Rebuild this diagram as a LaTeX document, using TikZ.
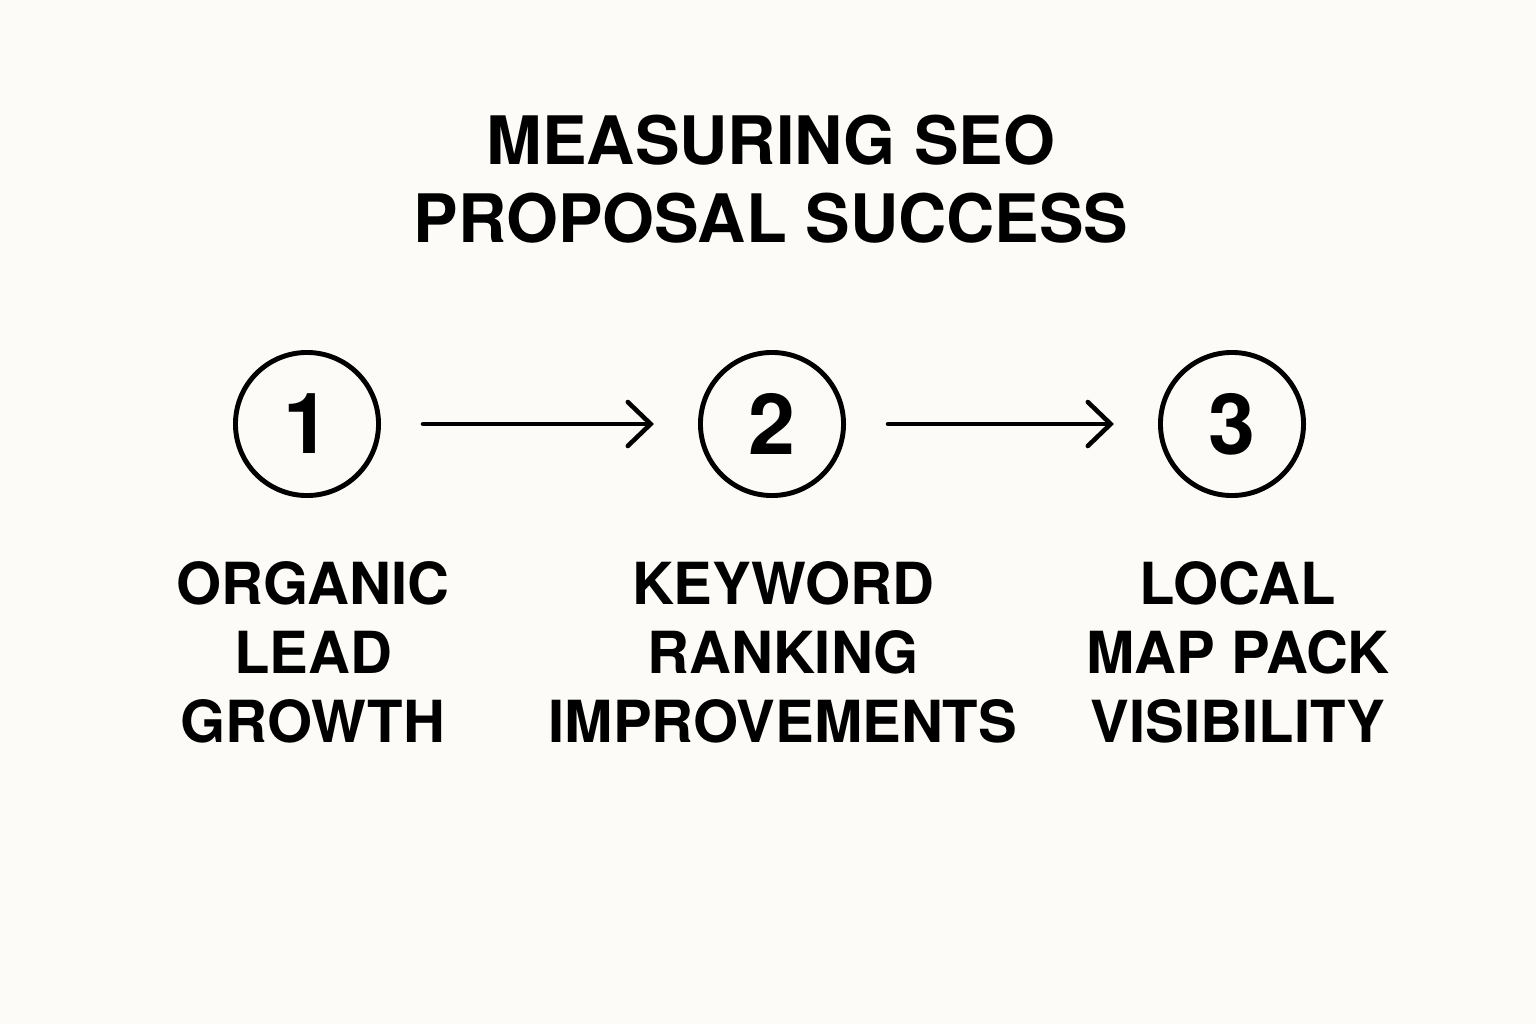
\documentclass[tikz,border=0pt]{standalone}
\usepackage{fontspec}
\setmainfont{TeX Gyre Heros}
\usetikzlibrary{arrows.meta}
\definecolor{paper}{HTML}{FCFBF7}
\tikzset{
  stepcircle/.style={circle, draw, line width=1.4pt, minimum size=1.43cm, inner sep=0pt,
    font=\bfseries\fontsize{24}{24}\selectfont},
  steplabel/.style={anchor=north, align=center, inner sep=0pt,
    font=\bfseries\fontsize{16.5}{19.6}\selectfont},
  flow/.style={-{Straight Barb[length=6.5pt,width=12.5pt,line cap=round]}, line width=1.3pt, line cap=round,
    shorten <=0.42cm, shorten >=0.44cm}
}
\begin{document}
\begin{tikzpicture}[x=0.01cm, y=-0.01cm]
\fill[paper] (0,0) rectangle (1536,1024);
\useasboundingbox (0,0) rectangle (1536,1024);
% title
\node (title) [anchor=north, align=center, inner sep=0pt, font=\bfseries\fontsize{19}{22.2}\selectfont] at (771,114) {MEASURING SEO\\PROPOSAL SUCCESS};

% nodes
\node (c1) [stepcircle] at (307,424) {1};
\node (c2) [stepcircle] at (772,424) {2};
\node (c3) [stepcircle] at (1232,424) {3};

\node (l1) [steplabel] at (313,561) {ORGANIC\\LEAD\\GROWTH};
\node (l2) [steplabel] at (783,561) {KEYWORD\\RANKING\\IMPROVEMENTS};
\node (l3) [steplabel] at (1238,561) {LOCAL\\MAP PACK\\VISIBILITY};

% arrows
\draw [flow] (c1)--(c2);
\draw [flow] (c2)--(c3);

\end{tikzpicture}
\end{document}
